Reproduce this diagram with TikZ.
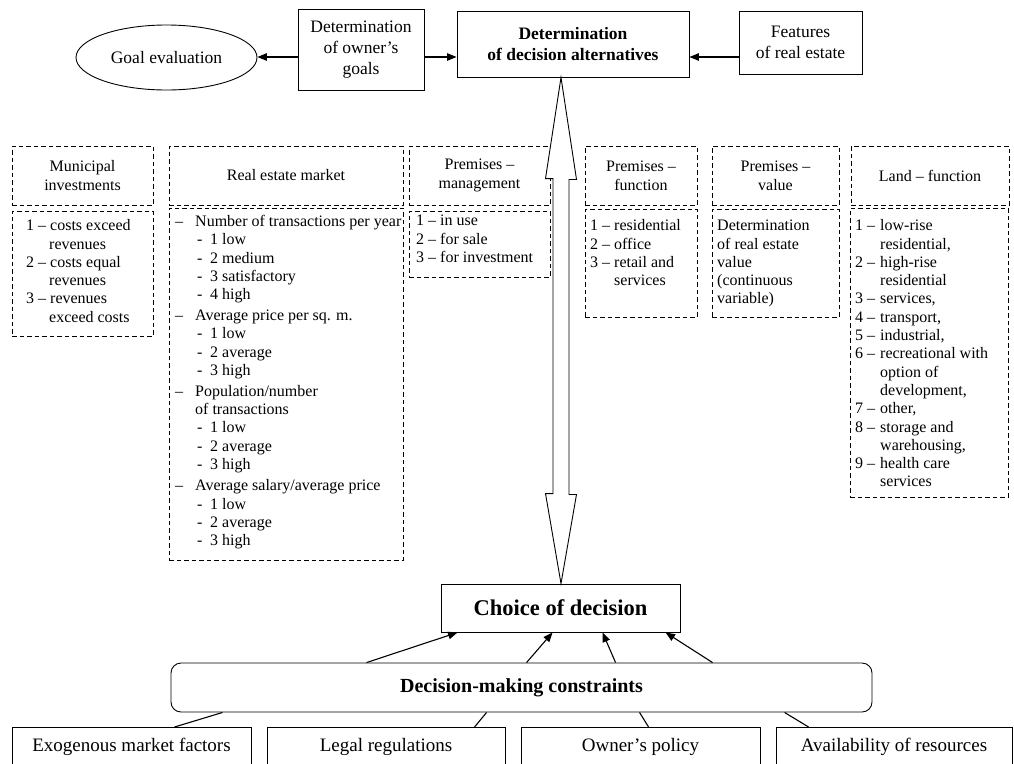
\documentclass[tikz,border=0pt]{standalone}
\usepackage{fontspec}
\setmainfont{Liberation Serif}
\usetikzlibrary{arrows.meta,shapes.geometric,calc}
\begin{document}
\begin{tikzpicture}[x=1pt,y=-1pt,
  box/.style={draw,line width=0.9pt,inner sep=0pt,align=center},
  dbox/.style={draw,line width=0.9pt,dash pattern=on 4.5pt off 3pt,inner sep=0pt,align=center,font=\fontsize{16pt}{19pt}\selectfont},
  topfont/.style={font=\fontsize{17.5pt}{21pt}\selectfont},
  listtxt/.style={inner sep=0pt,anchor=north west,align=left,font=\fontsize{16pt}{18.3pt}\selectfont},
  botbox/.style={draw,line width=0.9pt,anchor=north,inner xsep=0pt,inner ysep=11.3pt,text height=13pt,text depth=30pt,font=\fontsize{19pt}{22pt}\selectfont},
  arr/.style={-{Triangle[length=9.5pt,width=7.5pt]},line width=1.1pt},
  ln/.style={line width=1.1pt}
]
\useasboundingbox (0,0) rectangle (1014,763);
\clip (0,0) rectangle (1014,763);

% top row
\node[box,ellipse,minimum width=181pt,minimum height=65pt,topfont] (goal) at (166.5,57.5) {Goal evaluation};
\node[box,minimum width=126pt,minimum height=81pt,topfont] (own) at (361,49.5) {Determination\\of owner’s\\goals};
\node[box,minimum width=232pt,minimum height=66pt,topfont,font=\fontsize{17.5pt}{20.5pt}\selectfont\bfseries] (alt) at (573,44) {Determination\\of decision alternatives};
\node[box,minimum width=123pt,minimum height=63pt,topfont] (feat) at (800.5,42.5) {Features\\of real estate};

\draw[arr] (own.west |- 0,57) -- (goal.east |- 0,57);
\draw[arr] (own.east |- 0,57) -- (alt.west |- 0,57);
\draw[arr] (feat.west |- 0,57) -- (alt.east |- 0,57);

% headers
\node[dbox,minimum width=141pt,minimum height=59pt] (hmun) at (82.5,175.5) {Municipal\\investments};
\node[dbox,minimum width=234pt,minimum height=59pt] (hrem) at (286,175.5) {Real estate market};
\node[dbox,minimum width=141pt,minimum height=59pt] (hpm) at (479.5,175.5) {Premises –\\management};
\node[dbox,minimum width=112pt,minimum height=59pt] (hpf) at (641,175.5) {Premises –\\function};
\node[dbox,minimum width=127pt,minimum height=59pt] (hpv) at (775.5,175.5) {Premises –\\value};
\node[dbox,minimum width=158pt,minimum height=59pt] (hlf) at (930,175.5) {Land – function};

% content boxes
\node[dbox,minimum width=141pt,minimum height=125pt] (cmun) at (82.5,273.5) {};
\node[dbox,minimum width=234pt,minimum height=352pt] (crem) at (286,384) {};
\node[dbox,minimum width=141pt,minimum height=66pt] (cpm) at (479.5,244) {};
\node[dbox,minimum width=112pt,minimum height=108pt] (cpf) at (641,263) {};
\node[dbox,minimum width=127pt,minimum height=108pt] (cpv) at (775.5,263) {};
\node[dbox,minimum width=158pt,minimum height=289pt] (clf) at (929,352.5) {};

% content texts
\node[listtxt] (tmun) at (26,217.7) {\strut 1 – costs exceed\\\hspace*{23pt}revenues\\2 – costs equal\\\hspace*{23pt}revenues\\3 – revenues\\\hspace*{23pt}exceed costs};

\node[listtxt] (trem) at (175,213.5) {\strut\makebox[20pt][l]{–}Number of transactions per year\\
\hspace*{22pt}\makebox[13pt][l]{-}1 low\\
\hspace*{22pt}\makebox[13pt][l]{-}2 medium\\
\hspace*{22pt}\makebox[13pt][l]{-}3 satisfactory\\
\hspace*{22pt}\makebox[13pt][l]{-}4 high\\[2.5pt]
\makebox[20pt][l]{–}Average price per sq. m.\\
\hspace*{22pt}\makebox[13pt][l]{-}1 low\\
\hspace*{22pt}\makebox[13pt][l]{-}2 average\\
\hspace*{22pt}\makebox[13pt][l]{-}3 high\\[2.5pt]
\makebox[20pt][l]{–}Population/number\\
\hspace*{20pt}of transactions\\
\hspace*{22pt}\makebox[13pt][l]{-}1 low\\
\hspace*{22pt}\makebox[13pt][l]{-}2 average\\
\hspace*{22pt}\makebox[13pt][l]{-}3 high\\[3pt]
\makebox[20pt][l]{–}Average salary/average price\\
\hspace*{22pt}\makebox[13pt][l]{-}1 low\\
\hspace*{22pt}\makebox[13pt][l]{-}2 average\\
\hspace*{22pt}\makebox[13pt][l]{-}3 high};

\node[listtxt] (tpm) at (416,212.7) {\strut 1 – in use\\2 – for sale\\3 – for investment};
\node[listtxt] (tpf) at (590,217.7) {\strut 1 – residential\\2 – office\\3 – retail and\\\hspace*{24pt}services};
\node[listtxt] (tpv) at (717,217.7) {\strut Determination\\of real estate\\value\\(continuous\\variable)};
\node[listtxt] (tlf) at (855,217.7) {\strut\makebox[25pt][l]{1 –}low-rise\\
\hspace*{25pt}residential,\\
\makebox[25pt][l]{2 –}high-rise\\
\hspace*{25pt}residential\\
\makebox[25pt][l]{3 –}services,\\
\makebox[25pt][l]{4 –}transport,\\
\makebox[25pt][l]{5 –}industrial,\\
\makebox[25pt][l]{6 –}recreational with\\
\hspace*{25pt}option of\\
\hspace*{25pt}development,\\
\makebox[25pt][l]{7 –}other,\\
\makebox[25pt][l]{8 –}storage and\\
\hspace*{25pt}warehousing,\\
\makebox[25pt][l]{9 –}health care\\
\hspace*{25pt}services};

% bottom part
\node[box,minimum width=239pt,minimum height=48pt,font=\fontsize{22.5pt}{26pt}\selectfont\bfseries] (choice) at (560.5,608) {Choice of decision};
\node[box,rounded corners=10pt,minimum width=701pt,minimum height=49pt,font=\fontsize{20pt}{24pt}\selectfont\bfseries] (cons) at (521.5,687.5) {Decision-making constraints};

% hollow double arrow
\coordinate (tipT) at (alt.south -| 561,0);
\coordinate (tipB) at (choice.north -| 561,0);
\draw[line width=0.9pt,fill=white] (tipT) -- ++(15.5,102) -- ++(-7.5,0) -- ++(0,315) -- ++(7.5,0) -- (tipB)
  -- ++(-15.5,-90) -- ++(7.5,0) -- ++(0,-315) -- ++(-7.5,0) -- cycle;

\node[botbox,minimum width=239pt] (b1) at (131.5,727) {Exogenous market factors};
\node[botbox,minimum width=238pt] (b2) at (386,727) {Legal regulations};
\node[botbox,minimum width=239pt] (b3) at (640.5,727) {Owner’s policy};
\node[botbox,minimum width=236pt] (b4) at (894,727) {Availability of resources};

\draw[arr] ([xshift=196pt]cons.north west) -- ([xshift=17pt]choice.south west);
\draw[arr] ([xshift=356pt]cons.north west) -- ([xshift=112pt]choice.south west);
\draw[arr] ([xshift=445pt]cons.north west) -- ([xshift=162pt]choice.south west);
\draw[arr] ([xshift=542pt]cons.north west) -- ([xshift=225pt]choice.south west);

\draw[ln] ([xshift=52pt]cons.south west) -- ([xshift=163pt]b1.north west);
\draw[ln] ([xshift=316pt]cons.south west) -- ([xshift=208pt]b2.north west);
\draw[ln] ([xshift=469pt]cons.south west) -- ([xshift=128pt]b3.north west);
\draw[ln] ([xshift=614pt]cons.south west) -- ([xshift=33pt]b4.north west);
\end{tikzpicture}
\end{document}
